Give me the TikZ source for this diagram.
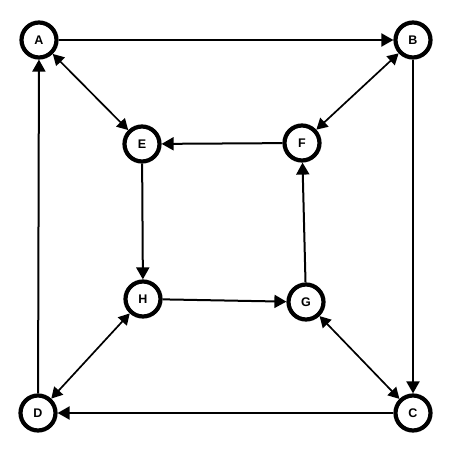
\documentclass[tikz,border=0pt]{standalone}
\usepackage{fontspec}
\setmainfont{Liberation Sans}
\usetikzlibrary{arrows.meta}
\tikzset{
 vertex/.style={circle,draw=black,line width=4.2pt,fill=white,minimum size=35pt,inner sep=0pt,font=\fontsize{12.5}{12.5}\selectfont\bfseries},
 edge/.style={line width=2pt,-{Triangle[length=12pt,width=13pt]}},
 twoway/.style={line width=1.7pt,{Triangle[length=11pt,width=12pt]}-{Triangle[length=11pt,width=12pt]}}
}
\begin{document}
\begin{tikzpicture}[x=1pt,y=-1pt]
 \useasboundingbox (0,0) rectangle (452,452);
 \node[vertex] (A) at (39,40) {A};
 \node[vertex] (B) at (413,40) {B};
 \node[vertex] (C) at (413,413) {C};
 \node[vertex] (D) at (38,413) {D};
 \node[vertex] (E) at (142,144) {E};
 \node[vertex] (F) at (302,143) {F};
 \node[vertex] (G) at (306,302) {G};
 \node[vertex] (H) at (143,299) {H};
 \draw[edge] (A) -- (B);
 \draw[edge] (B) -- (C);
 \draw[edge] (C) -- (D);
 \draw[edge] (D) -- (A);
 \draw[edge] (F) -- (E);
 \draw[edge] (E) -- (H);
 \draw[edge] (H) -- (G);
 \draw[edge] (G) -- (F);
 \draw[twoway] (A) -- (E);
 \draw[twoway] (B) -- (F);
 \draw[twoway] (C) -- (G);
 \draw[twoway] (D) -- (H);
\end{tikzpicture}
\end{document}
